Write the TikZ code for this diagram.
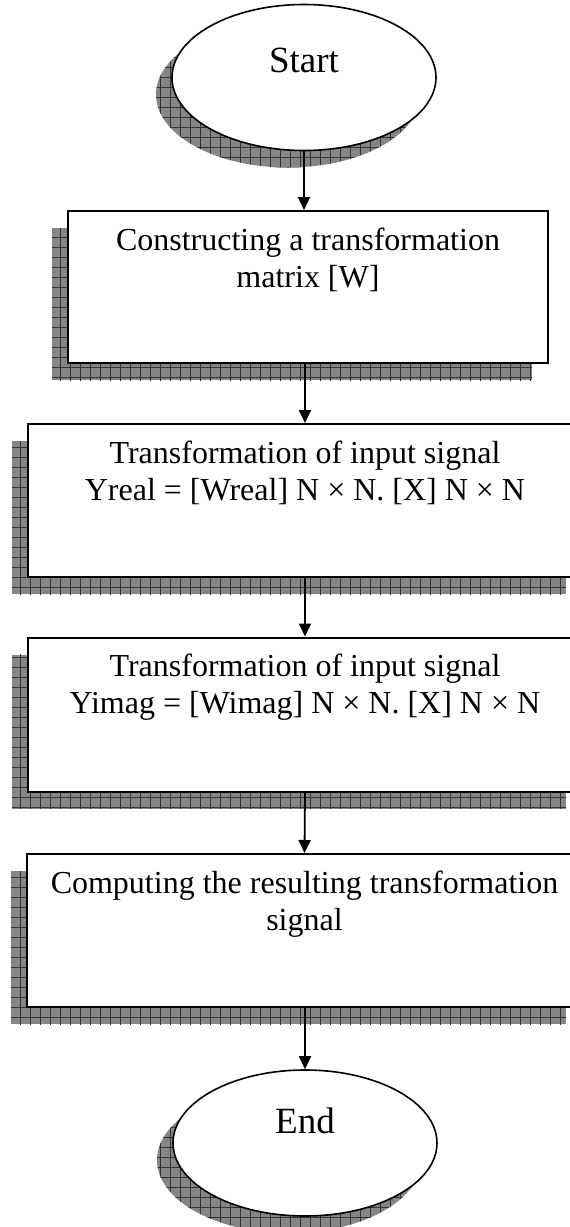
\documentclass[tikz,border=0pt]{standalone}
\usepackage{fontspec}
\setmainfont{Liberation Serif}
\usetikzlibrary{shapes.geometric,arrows.meta,patterns.meta,calc}
\definecolor{sgray}{HTML}{858585}
\definecolor{sline}{HTML}{333333}
\tikzset{
  shadowed/.style={
    preaction={fill=sgray, transform canvas={shift={(-16pt,-17pt)}}},
    preaction={pattern={Lines[distance=10pt,angle=0,line width=0.8pt]}, pattern color=sline, transform canvas={shift={(-16pt,-17pt)}}},
    preaction={pattern={Lines[distance=10pt,angle=90,line width=0.8pt]}, pattern color=sline, transform canvas={shift={(-16pt,-17pt)}}}},
  stepbox/.style={shadowed, rectangle, draw=black, fill=white, line width=2pt, inner sep=0pt},
  termnode/.style={shadowed, ellipse, draw=black, fill=white, line width=1.6pt, inner sep=0pt,
    minimum width=264pt, minimum height=146pt, font=\fontsize{37}{42}\selectfont, text height=24pt},
  txt/.style={align=center, inner sep=0pt, font=\fontsize{32}{37}\selectfont, anchor=north},
  arr/.style={line width=1.8pt, -{Triangle[width=12pt,length=13pt]}}
}
\begin{document}
\begin{tikzpicture}[x=1pt,y=-1pt]
\useasboundingbox (0,0) rectangle (570,1227);
\clip (0,0) rectangle (570,1227);
\node[termnode, text depth=35pt] (s) at (304,77.5) {Start};
\node[stepbox, minimum width=480pt, minimum height=152pt] (b1) at (308,287) {};
\node[stepbox, minimum width=554pt, minimum height=153pt] (b2) at (305,500.5) {};
\node[stepbox, minimum width=554pt, minimum height=154pt] (b3) at (305,714.5) {};
\node[stepbox, minimum width=555pt, minimum height=153pt] (b4) at (304.5,930.5) {};
\node[termnode, text depth=44pt] (e) at (305,1143) {End};
\node[txt] (t1) at ($(b1.north)+(0,14)$) {\strut Constructing a transformation\\matrix [W]};
\node[txt] (t2) at ($(b2.north)+(0,14)$) {\strut Transformation of input signal\\Yreal = [Wreal] N × N. [X] N × N};
\node[txt] (t3) at ($(b3.north)+(0,14)$) {\strut Transformation of input signal\\Yimag = [Wimag] N × N. [X] N × N};
\node[txt] (t4) at ($(b4.north)+(0,14)$) {\strut Computing the resulting transformation\\signal};
\draw[arr] (s.south) -- (s.south |- b1.north);
\draw[arr] (b2.north |- b1.south) -- (b2.north);
\draw[arr] (b2.south) -- (b3.north);
\draw[arr] (b3.south) -- (b4.north);
\draw[arr] (e.north |- b4.south) -- (e.north);
\end{tikzpicture}
\end{document}
